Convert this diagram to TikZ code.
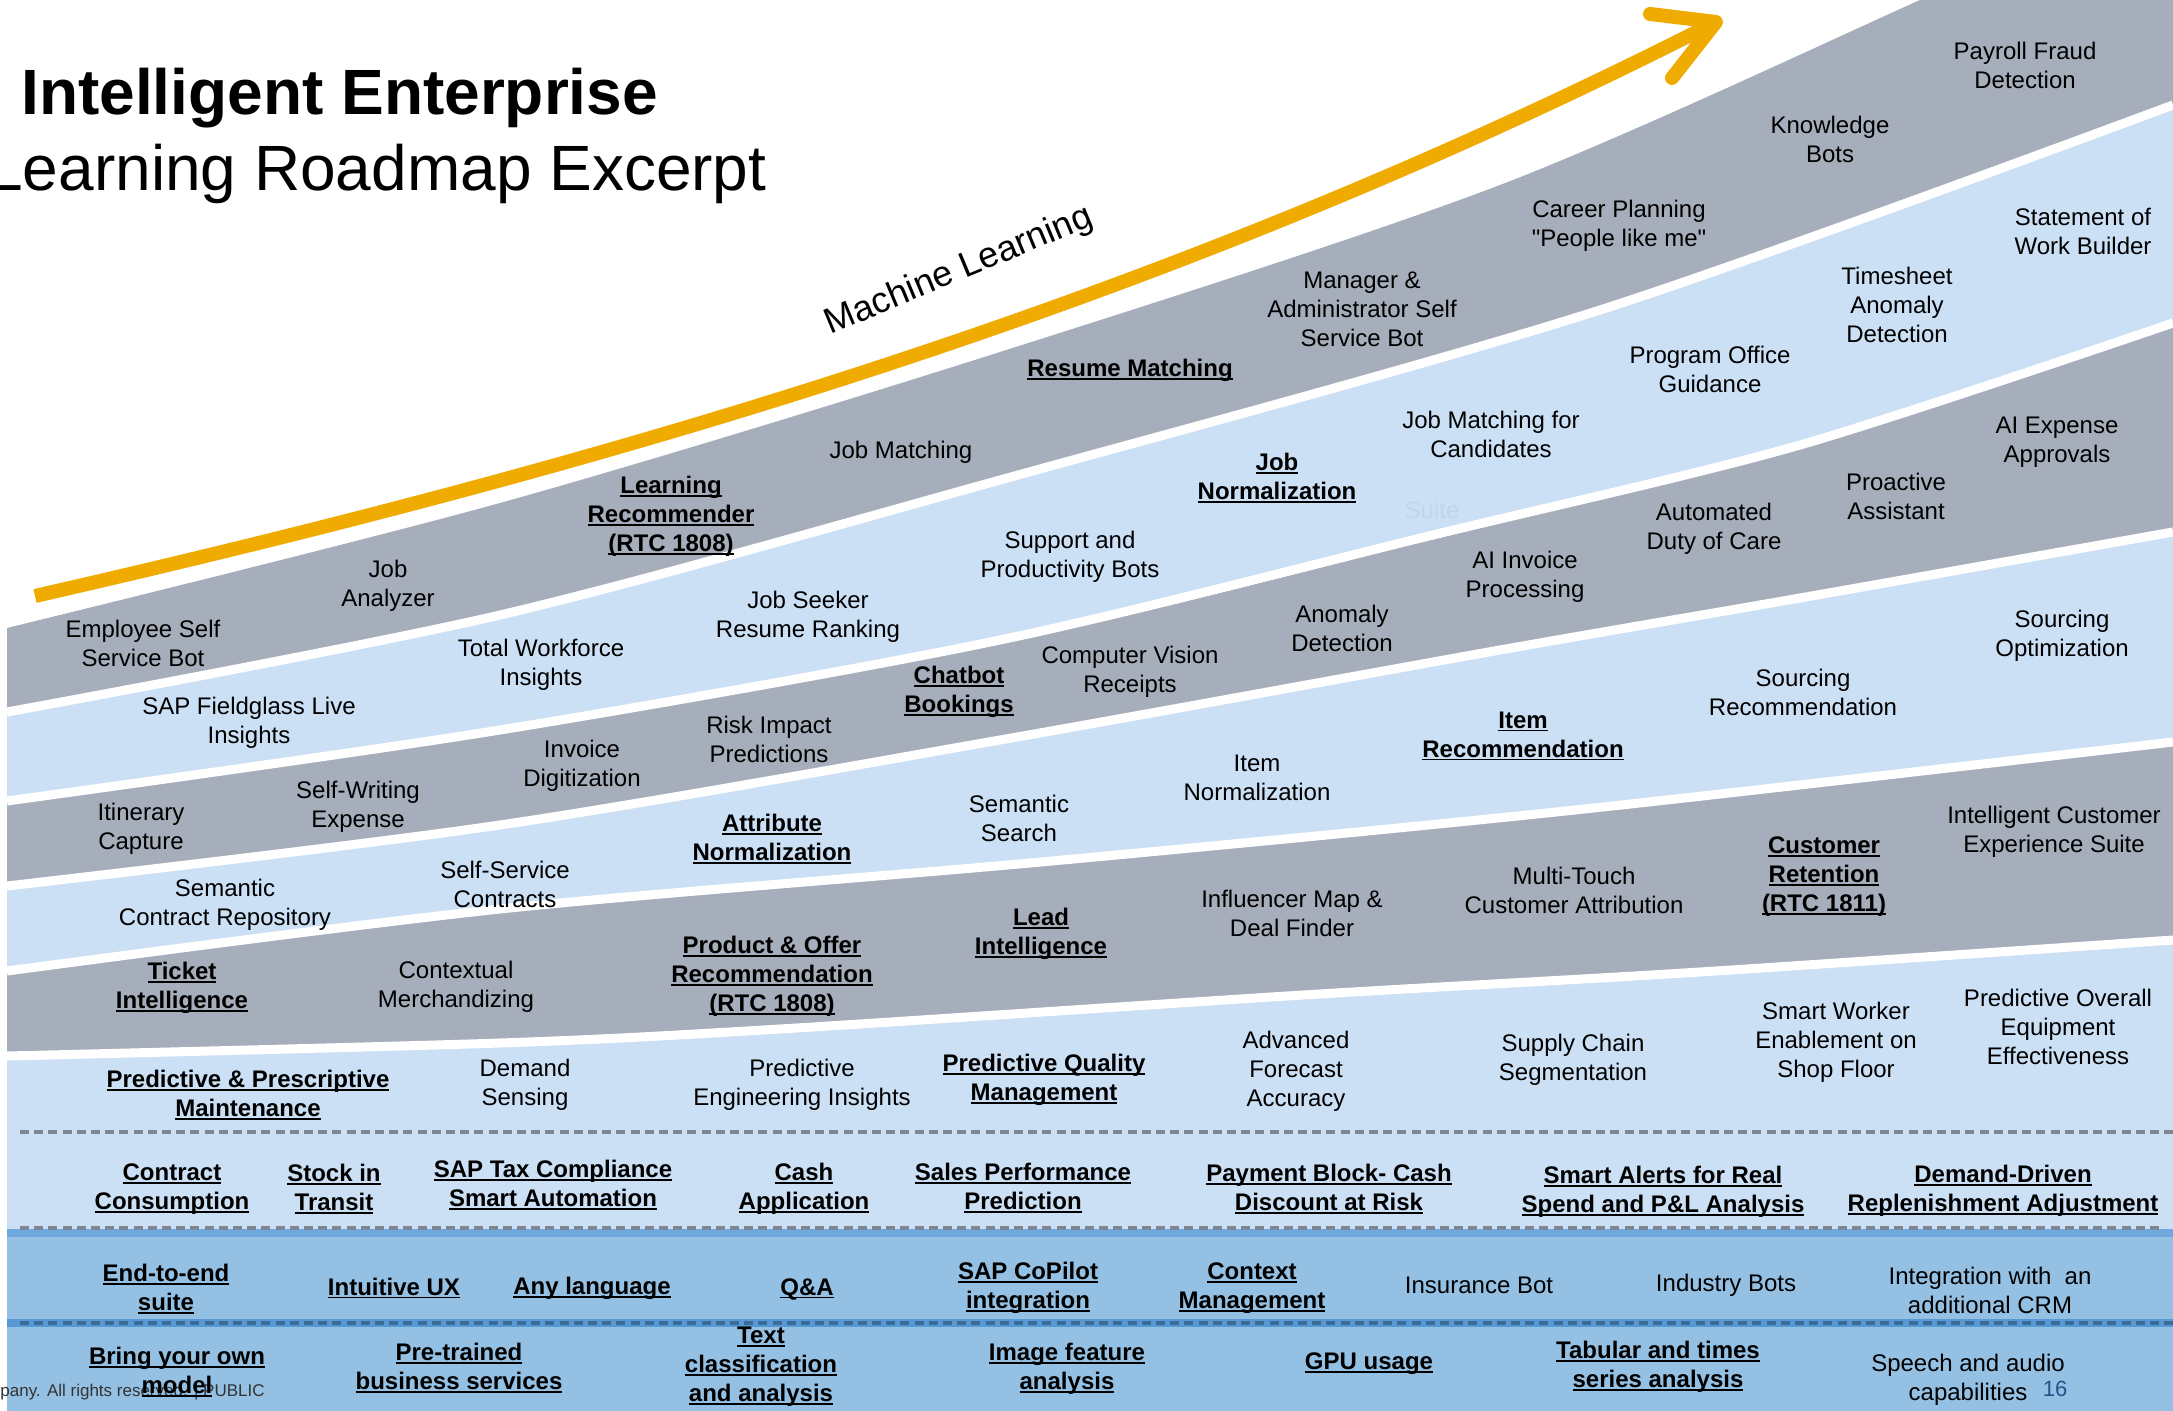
\documentclass[tikz,border=0pt]{standalone}
\usepackage{fontspec}
\setmainfont{Liberation Sans}
\newfontfamily\qfont[Ligatures=TeXOff]{Liberation Sans}
\definecolor{bandgray}{RGB}{166,174,187}
\definecolor{bandblue}{RGB}{204,224,245}
\definecolor{deepblue}{RGB}{147,192,227}
\definecolor{stripeA}{RGB}{111,168,220}
\definecolor{stripeB}{RGB}{88,152,211}
\definecolor{dashgray}{RGB}{125,135,148}
\definecolor{dashblue}{RGB}{58,108,152}
\definecolor{mlorange}{RGB}{240,171,0}
\definecolor{pagenum}{RGB}{32,84,140}
\definecolor{ghost}{RGB}{195,213,237}
\newcommand\ulx[1]{\setbox0=\hbox{#1}\rlap{\rule[-1.7pt]{\wd0}{0.9pt}}\box0}
\begin{document}
\begin{tikzpicture}[x=0.5pt,y=-0.5pt,
  txt/.style={align=center,inner sep=0pt,font=\fontsize{12}{14.5}\selectfont},
  btxt/.style={align=center,inner sep=0pt,font=\fontsize{12}{14.5}\selectfont\bfseries},
  gapline/.style={white,line width=4.5pt},
  dashgrayline/.style={dashgray,line width=1.6pt,dash pattern=on 4.5pt off 2.6pt},
  dashblueline/.style={dashblue,line width=1.6pt,dash pattern=on 4.5pt off 2.6pt},
  mlline/.style={mlorange,line width=7pt}]
\useasboundingbox (0,0) rectangle (2173,1411);
\clip (0,0) rectangle (2173,1411);
\fill[white] (0,0) rectangle (2173,1411);

% bands
\fill[bandgray] plot[smooth] coordinates {(7,628) (500,503) (1000,352) (1500,185) (1920,0) (2050,-60)} -- (2173,-60) -- (2173,1232) -- (7,1232) -- cycle;
\fill[bandblue] plot[smooth] coordinates {(7,712) (500,615) (1000,480) (1600,310) (2173,105)} -- (2173,1232) -- (7,1232) -- cycle;
\fill[bandgray] plot[smooth] coordinates {(7,801) (500,730) (1000,640) (1433,535) (1800,445) (2173,323)} -- (2173,1232) -- (7,1232) -- cycle;
\fill[bandblue] plot[smooth] coordinates {(7,886) (500,825) (1000,740) (1500,650) (1800,598) (2173,532)} -- (2173,1232) -- (7,1232) -- cycle;
\fill[bandgray] plot[smooth] coordinates {(7,971) (500,909) (1041,862) (1575,810) (2173,742)} -- (2173,1232) -- (7,1232) -- cycle;
\fill[bandblue] plot[smooth] coordinates {(7,1056) (500,1043) (780,1029) (1303,995) (1700,972) (2173,940)} -- (2173,1232) -- (7,1232) -- cycle;
\draw[gapline] plot[smooth] coordinates {(7,712) (500,615) (1000,480) (1600,310) (2173,105)};
\draw[gapline] plot[smooth] coordinates {(7,801) (500,730) (1000,640) (1433,535) (1800,445) (2173,323)};
\draw[gapline] plot[smooth] coordinates {(7,886) (500,825) (1000,740) (1500,650) (1800,598) (2173,532)};
\draw[gapline] plot[smooth] coordinates {(7,971) (500,909) (1041,862) (1575,810) (2173,742)};
\draw[gapline] plot[smooth] coordinates {(7,1056) (500,1043) (780,1029) (1303,995) (1700,972) (2173,940)};

% lower rows
\fill[stripeA] (7,1229) rectangle (2173,1237);
\fill[deepblue] (7,1237) rectangle (2173,1411);
\fill[stripeB] (7,1319) rectangle (2173,1327);
\draw[dashgrayline] (20,1132) -- (2173,1132);
\draw[dashgrayline] (20,1228) -- (2160,1228);
\draw[dashblueline] (20,1323) -- (2173,1323);

% title
\node[anchor=base west,inner sep=0pt,font=\fontsize{32}{38}\selectfont\bfseries] (title1) at (21,115) {Intelligent Enterprise};
\node[anchor=base west,inner sep=0pt,font=\fontsize{32}{38}\selectfont] (title2) at (-13,191) {Learning Roadmap Excerpt};

% machine learning arrow
\coordinate (mlstart) at (35,596);
\coordinate (mlend) at (1716,22);
\coordinate (mlarmA) at (1650,14);
\coordinate (mlarmB) at (1672,78);
\draw[mlline] (mlstart) .. controls (595,468) and (1156,308) .. (mlend);
\draw[mlline,line cap=round,line join=round] (mlarmA) -- (mlend) -- (mlarmB);
\node[rotate=22.6,inner sep=0pt,font=\fontsize{18}{20}\selectfont] (ml) at (959,271) {Machine Learning};

% band 1
\node[txt] (n01) at (143,643) {Employee Self\\Service Bot};
\node[txt] (n02) at (388,586) {Job\\Analyzer};
\node[btxt] (n03) at (671,516) {\ulx{Learning}\\\ulx{Recommender}\\\ulx{(RTC 1808)}};
\node[txt] (n04) at (901,452) {Job Matching};
\node[btxt] (n05) at (1130,370) {\ulx{Resume Matching}};
\node[txt] (n06) at (1362,309) {Manager \&\\Administrator Self\\Service Bot};
\node[txt] (n07) at (1619,226) {Career Planning\\{\qfont\symbol{34}}People like me{\qfont\symbol{34}}};
\node[txt] (n08) at (1830,139) {Knowledge\\Bots};
\node[txt] (n09) at (2025,65) {Payroll Fraud\\Detection};
% band 2
\node[txt] (n10) at (249,723) {SAP Fieldglass Live\\Insights};
\node[txt] (n11) at (541,665) {Total Workforce\\Insights};
\node[txt] (n12) at (808,617) {Job Seeker\\Resume Ranking};
\node[txt] (n13) at (1070,557) {Support and\\Productivity Bots};
\node[btxt] (n14) at (1277,478) {\ulx{Job}\\\ulx{Normalization}};
\node[txt] (n15) at (1491,434) {Job Matching for\\Candidates};
\node[txt] (n16) at (1710,369) {Program Office\\Guidance};
\node[txt] (n17) at (1897,305) {Timesheet\\Anomaly\\Detection};
\node[txt] (n18) at (2083,231) {Statement of\\Work Builder};
\node[txt,text=ghost] (n19) at (1432,510) {Suite};
% band 3
\node[txt] (n20) at (141,829) {Itinerary\\Capture};
\node[txt] (n21) at (358,807) {Self-Writing\\Expense};
\node[txt] (n22) at (582,766) {Invoice\\Digitization};
\node[txt] (n23) at (769,739) {Risk Impact\\Predictions};
\node[btxt] (n24) at (959,692) {\ulx{Chatbot}\\\ulx{Bookings}};
\node[txt] (n25) at (1130,672) {Computer Vision\\Receipts};
\node[txt] (n26) at (1342,628) {Anomaly\\Detection};
\node[txt] (n27) at (1525,577) {AI Invoice\\Processing};
\node[txt] (n28) at (1714,529) {Automated\\Duty of Care};
\node[txt] (n29) at (1896,496) {Proactive\\Assistant};
\node[txt] (n30) at (2057,442) {AI Expense\\Approvals};
% band 4
\node[txt] (n31) at (225,905) {Semantic\\Contract Repository};
\node[txt] (n32) at (505,884) {Self-Service\\Contracts};
\node[btxt] (n33) at (772,839) {\ulx{Attribute}\\\ulx{Normalization}};
\node[txt] (n34) at (1019,818) {Semantic\\Search};
\node[txt] (n35) at (1257,778) {Item\\Normalization};
\node[btxt] (n36) at (1523,736) {\ulx{Item}\\\ulx{Recommendation}};
\node[txt] (n37) at (1803,692) {Sourcing\\Recommendation};
\node[txt] (n38) at (2062,636) {Sourcing\\Optimization};
% band 5
\node[btxt] (n39) at (182,988) {\ulx{Ticket}\\\ulx{Intelligence}};
\node[txt] (n40) at (456,987) {Contextual\\Merchandizing};
\node[btxt] (n41) at (772,976) {\ulx{Product \& Offer}\\\ulx{Recommendation}\\\ulx{(RTC 1808)}};
\node[btxt] (n42) at (1041,934) {\ulx{Lead}\\\ulx{Intelligence}};
\node[txt] (n43) at (1292,913) {Influencer Map \&\\Deal Finder};
\node[txt] (n44) at (1574,890) {Multi-Touch\\Customer Attribution};
\node[btxt] (n45) at (1824,877) {\ulx{Customer}\\\ulx{Retention}\\\ulx{(RTC 1811)}};
\node[txt] (n46) at (2054,832) {Intelligent Customer\\Experience Suite};
% band 6
\node[btxt] (n47) at (248,1095) {\ulx{Predictive \& Prescriptive}\\\ulx{Maintenance}};
\node[txt] (n48) at (525,1085) {Demand\\Sensing};
\node[txt] (n49) at (802,1085) {Predictive\\Engineering Insights};
\node[btxt] (n50) at (1044,1080) {\ulx{Predictive Quality}\\\ulx{Management}};
\node[txt] (n51) at (1296,1071) {Advanced\\Forecast\\Accuracy};
\node[txt] (n52) at (1573,1060) {Supply Chain\\Segmentation};
\node[txt] (n53) at (1836,1042) {Smart Worker\\Enablement on\\Shop Floor};
\node[txt] (n54) at (2058,1027) {Predictive Overall\\Equipment\\Effectiveness};
% row 7
\node[btxt] (n55) at (172,1189) {\ulx{Contract}\\\ulx{Consumption}};
\node[btxt] (n56) at (334,1189) {\ulx{Stock in}\\\ulx{Transit}};
\node[btxt] (n57) at (553,1185) {\ulx{SAP Tax Compliance}\\\ulx{Smart Automation}};
\node[btxt] (n58) at (804,1189) {\ulx{Cash}\\\ulx{Application}};
\node[btxt] (n59) at (1023,1188) {\ulx{Sales Performance}\\\ulx{Prediction}};
\node[btxt] (n60) at (1329,1189) {\ulx{Payment Block- Cash}\\\ulx{Discount at Risk}};
\node[btxt] (n61) at (1663,1192) {\ulx{Smart Alerts for Real}\\\ulx{Spend and P\&L Analysis}};
\node[btxt] (n62) at (2003,1191) {\ulx{Demand-Driven}\\\ulx{Replenishment Adjustment}};
% row 8
\node[btxt] (n63) at (166,1289) {\ulx{End-to-end}\\\ulx{suite}};
\node[btxt] (n64) at (394,1288) {\ulx{Intuitive UX}};
\node[btxt] (n65) at (592,1288) {\ulx{Any language}};
\node[btxt] (n66) at (807,1289) {\ulx{Q\&A}};
\node[btxt] (n67) at (1028,1288) {\ulx{SAP CoPilot}\\\ulx{integration}};
\node[btxt] (n68) at (1252,1288) {\ulx{Context}\\\ulx{Management}};
\node[txt] (n69) at (1479,1285) {Insurance Bot};
\node[txt] (n70) at (1726,1285) {Industry Bots};
\node[txt] (n71) at (1990,1290) {Integration with~ an\\additional CRM};
% footer
\node[anchor=base west,inner sep=0pt,font=\fontsize{8.5}{10}\selectfont,text=black!80] (foot) at (0,1396) {pany. All rights reserved. | PUBLIC};
% row 9
\node[btxt] (n72) at (177,1372) {\ulx{Bring your own}\\\ulx{model}};
\node[btxt] (n73) at (459,1368) {\ulx{Pre-trained}\\\ulx{business services}};
\node[btxt] (n74) at (761,1367) {\ulx{Text}\\\ulx{classification}\\\ulx{and analysis}};
\node[btxt] (n75) at (1067,1369) {\ulx{Image feature}\\\ulx{analysis}};
\node[btxt] (n76) at (1369,1364) {\ulx{GPU usage}};
\node[btxt] (n77) at (1658,1367) {\ulx{Tabular and times}\\\ulx{series analysis}};
\node[txt] (n78) at (1968,1380) {Speech and audio\\capabilities};
\node[inner sep=0pt,font=\fontsize{11}{13}\selectfont,text=pagenum] (pnum) at (2055,1389) {16};
\end{tikzpicture}
\end{document}
